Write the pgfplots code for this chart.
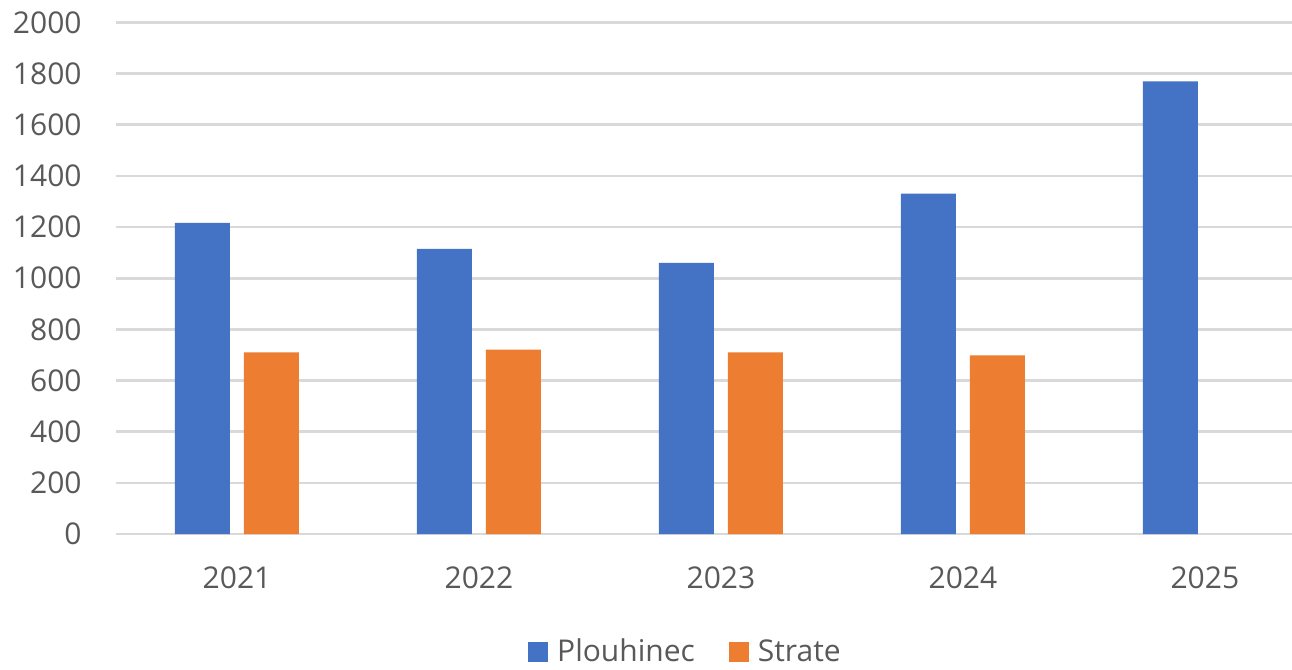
\documentclass[border=0pt]{standalone}
\usepackage{pgfplots}
\pgfplotsset{compat=1.18}
\usepackage{fontspec}
\setmainfont{Open Sans}
\definecolor{barblue}{HTML}{4472C4}
\definecolor{barorange}{HTML}{ED7D31}
\definecolor{gridgray}{HTML}{D9D9D9}
\definecolor{textgray}{HTML}{595959}

\begin{document}
\begin{tikzpicture}
\begin{axis}[
  at={(0pt,0pt)}, anchor=south west,
  scale only axis,
  width=588pt, height=255.75pt,
  xmin=-0.5, xmax=4.36,
  ymin=0, ymax=2000,
  axis line style={draw=none},
  clip=false,
  ytick={0,200,...,2000},
  xtick={0,1,2,3,4},
  xticklabels={2021,2022,2023,2024,2025},
  ymajorgrids,
  grid style={gridgray, line width=1.35pt},
  major tick length=0pt,
  tick style={draw=none},
  tick label style={font=\fontsize{15pt}{18pt}\selectfont, text=textgray},
  /pgf/number format/assume math mode=true,
  yticklabel style={anchor=east, inner sep=0pt, xshift=-17pt},
  xticklabel style={anchor=center, inner sep=0pt, yshift=-22pt},
  scaled y ticks=false,
  y tick label style={/pgf/number format/1000 sep={}},
  legend style={
    at={(0.4834,-0.2307)}, anchor=center,
    draw=none, fill=none,
    font=\fontsize{15pt}{18pt}\selectfont, text=textgray,
    legend columns=-1,
    column sep=4.5pt,
    nodes={inner sep=0pt},
    /tikz/every even column/.append style={column sep=17pt},
  },
  legend image code/.code={\fill[#1] (0pt,-5pt) rectangle (10pt,5pt);},
]
\addplot[ybar, bar width=27.5pt, bar shift=-17.25pt, fill=barblue, draw=none]
  coordinates {(0,1217) (1,1115) (2,1060) (3,1331) (4,1770)};
\addlegendentry{Plouhinec}
\addplot[ybar, bar width=27.5pt, bar shift=17.25pt, fill=barorange, draw=none]
  coordinates {(0,710) (1,721) (2,710) (3,698)};
\addlegendentry{Strate}
\end{axis}
\pgfresetboundingbox
\path[use as bounding box] (-58pt,-68pt) rectangle (588pt,267pt);
\end{tikzpicture}
\end{document}
